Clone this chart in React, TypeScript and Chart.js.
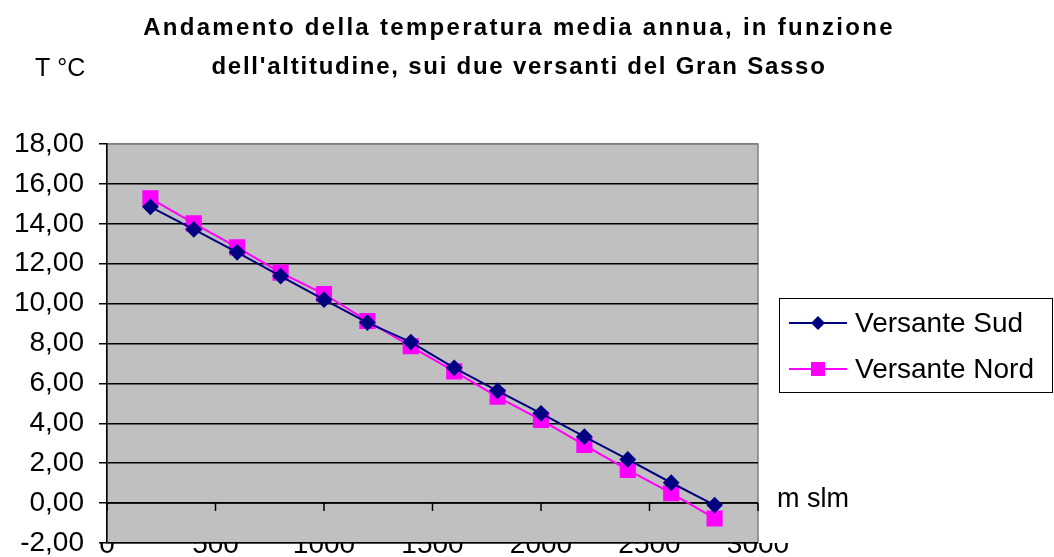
import React, { useEffect, useRef } from "react";
import { Chart, registerables } from "chart.js";

Chart.register(...registerables);

const altitudes = [200, 400, 600, 800, 1000, 1200, 1400, 1600, 1800, 2000, 2200, 2400, 2600, 2800];
const versanteSud = [14.85, 13.72, 12.57, 11.38, 10.2, 9.05, 8.07, 6.78, 5.63, 4.5, 3.33, 2.19, 1.02, -0.1];
const versanteNord = [15.28, 14.02, 12.82, 11.55, 10.48, 9.13, 7.86, 6.6, 5.33, 4.17, 2.91, 1.66, 0.5, -0.77];
const seriesNames = ["Versante Sud", "Versante Nord"];
const titleLines = [
  "Andamento della temperatura media annua, in funzione",
  "dell'altitudine, sui due versanti del Gran Sasso",
];
const yAxisLabel = "T °C";
const xAxisLabel = "m slm";
const xMin = 0;
const xMax = 3000;
const xStep = 500;
const yMin = -2;
const yMax = 18;
const yStep = 2;

const FONT = "'Liberation Sans', Arial, sans-serif";

const decorPlugin = {
  id: "decor",
  beforeDraw(chart: any) {
    const { ctx, chartArea } = chart;
    ctx.save();
    ctx.fillStyle = "#ffffff";
    ctx.fillRect(0, 0, chart.width, chart.height);
    ctx.fillStyle = "#c0c0c0";
    ctx.fillRect(chartArea.left, chartArea.top, chartArea.right - chartArea.left, chartArea.bottom - chartArea.top);
    ctx.strokeStyle = "#808080";
    ctx.lineWidth = 1.5;
    ctx.strokeRect(chartArea.left, chartArea.top, chartArea.right - chartArea.left, chartArea.bottom - chartArea.top);
    ctx.restore();
  },
  beforeDatasetsDraw(chart: any) {
    const { ctx, chartArea, scales } = chart;
    const x = scales.x;
    const y = scales.y;
    const y0 = y.getPixelForValue(0);
    ctx.save();
    ctx.strokeStyle = "#000000";
    ctx.lineWidth = 1.5;
    ctx.beginPath();
    ctx.moveTo(chartArea.left, y0);
    ctx.lineTo(chartArea.right, y0);
    x.ticks.forEach((t: any) => {
      const px = x.getPixelForValue(t.value);
      ctx.moveTo(px, y0);
      ctx.lineTo(px, y0 + 8);
    });
    ctx.stroke();
    ctx.restore();
  },
  afterDraw(chart: any) {
    const { ctx } = chart;
    ctx.save();
    ctx.fillStyle = "#000000";
    ctx.font = `bold 24px ${FONT}`;
    ctx.textAlign = "center";
    ctx.textBaseline = "alphabetic";
    (ctx as any).letterSpacing = "2.3px";
    ctx.fillText(titleLines[0], 519, 35);
    (ctx as any).letterSpacing = "1.75px";
    ctx.fillText(titleLines[1], 519, 74);
    (ctx as any).letterSpacing = "0px";
    ctx.textAlign = "left";
    ctx.font = `25px ${FONT}`;
    ctx.fillText(yAxisLabel, 35, 76);
    ctx.font = `27px ${FONT}`;
    ctx.fillText(xAxisLabel, 777, 507);
    ctx.strokeStyle = "#000000";
    ctx.lineWidth = 1;
    ctx.strokeRect(779.5, 298.5, 273, 94);
    const rows = [323, 369];
    chart.data.datasets.forEach((ds: any, i: number) => {
      const yy = rows[i];
      ctx.strokeStyle = ds.borderColor;
      ctx.lineWidth = 2;
      ctx.beginPath();
      ctx.moveTo(789, yy);
      ctx.lineTo(847, yy);
      ctx.stroke();
      ctx.fillStyle = ds.pointBackgroundColor;
      ctx.beginPath();
      if (ds.pointStyle === "rectRot") {
        const r = 7;
        ctx.moveTo(818, yy - r);
        ctx.lineTo(818 + r, yy);
        ctx.lineTo(818, yy + r);
        ctx.lineTo(818 - r, yy);
        ctx.closePath();
      } else {
        ctx.rect(811, yy - 7, 14, 14);
      }
      ctx.fill();
      ctx.fillStyle = "#000000";
      ctx.font = `28px ${FONT}`;
      ctx.textBaseline = "middle";
      ctx.fillText(ds.label, 855, yy + 1);
    });
    ctx.restore();
  },
};

export default function App() {
  const ref = useRef<HTMLCanvasElement | null>(null);
  useEffect(() => {
    document.body.style.margin = "0";
    const canvas = ref.current;
    if (!canvas) return;
    const chart = new Chart(canvas, {
      type: "line",
      data: {
        datasets: [
          {
            label: seriesNames[0],
            data: altitudes.map((a, i) => ({ x: a, y: versanteSud[i] })),
            borderColor: "#000080",
            backgroundColor: "#000080",
            pointBackgroundColor: "#000080",
            pointBorderColor: "#000080",
            pointStyle: "rectRot",
            pointRadius: 7,
            borderWidth: 2,
            tension: 0,
          },
          {
            label: seriesNames[1],
            data: altitudes.map((a, i) => ({ x: a, y: versanteNord[i] })),
            borderColor: "#ff00ff",
            backgroundColor: "#ff00ff",
            pointBackgroundColor: "#ff00ff",
            pointBorderColor: "#ff00ff",
            pointStyle: "rect",
            pointRadius: 10,
            borderWidth: 2,
            tension: 0,
          },
        ],
      },
      options: {
        responsive: true,
        maintainAspectRatio: false,
        animation: false,
        layout: { padding: { top: 144, right: 296, left: 0, bottom: 0 } },
        plugins: { legend: { display: false }, title: { display: false }, tooltip: { enabled: false } },
        scales: {
          x: {
            type: "linear",
            position: "bottom",
            min: xMin,
            max: xMax,
            grid: { display: false },
            border: { display: false },
            ticks: {
              stepSize: xStep,
              color: "#000000",
              font: { family: FONT, size: 28 },
              padding: -23,
              maxRotation: 0,
              autoSkip: false,
              callback: (v: any) => String(v),
            },
            afterFit(scale: any) {
              scale.height = 14;
              scale.paddingLeft = 0;
              scale.paddingRight = 0;
            },
          },
          y: {
            type: "linear",
            min: yMin,
            max: yMax,
            grid: {
              color: (c: any) => (c.tick && c.tick.value === yMax ? "#808080" : "#000000"),
              lineWidth: 1.5,
              tickLength: 8,
              tickColor: "#000000",
            },
            border: { display: true, color: "#000000", width: 1.5 },
            ticks: {
              stepSize: yStep,
              color: "#000000",
              font: { family: FONT, size: 28 },
              padding: 15,
              callback: (v: any) => Number(v).toFixed(2).replace(".", ","),
            },
            afterFit(scale: any) {
              scale.width = 107;
              scale.paddingTop = 0;
              scale.paddingBottom = 0;
            },
          },
        },
      },
      plugins: [decorPlugin],
    } as any);
    return () => chart.destroy();
  }, []);
  return (
    <div style={{ position: "absolute", left: 0, top: 0, width: 1054, height: 557 }}>
      <canvas ref={ref} />
    </div>
  );
}
